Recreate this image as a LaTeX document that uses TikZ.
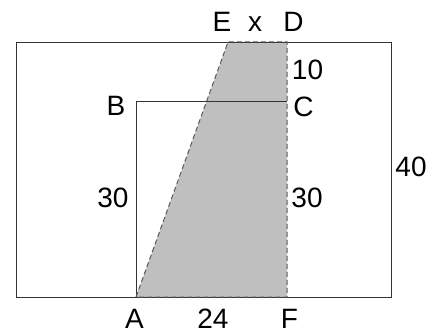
\documentclass[tikz,border=0pt]{standalone}
\usepackage{fontspec}
\setmainfont{Liberation Sans}
\begin{document}
\begin{tikzpicture}[x=1pt,y=1pt,
  lbl/.style={anchor=base,inner sep=0pt,font=\fontsize{28}{33}\selectfont},
  edgeline/.style={line width=0.9pt,draw=black!80},
  dashline/.style={line width=1pt,draw=black!65,dash pattern=on 5pt off 3pt}]
\useasboundingbox (0,0) rectangle (436,335);
\coordinate (O1) at (16,38);
\coordinate (O2) at (391,293);
\coordinate (A) at (136,38);
\coordinate (B) at (136,234);
\coordinate (C) at (287,234);
\coordinate (D) at (287,293);
\coordinate (E) at (228,293);
\coordinate (F) at (287,38);
\fill[black!25] (A) -- (E) -- (D) -- (F) -- cycle;
\draw[edgeline] (O1) rectangle (O2);
\draw[edgeline] (A) -- (B) -- (C);
\draw[dashline] (A) -- (E) -- (D) -- (F) -- cycle;
\node[lbl] (lE) at (222,303) {E};
\node[lbl] (lx) at (255,303) {x};
\node[lbl] (lD) at (293.5,303) {D};
\node[lbl] (l10) at (307.5,255) {10};
\node[lbl] (lC) at (303.5,218) {C};
\node[lbl] (lB) at (116,219) {B};
\node[lbl] (l30a) at (113,128) {30};
\node[lbl] (l30b) at (307,127.5) {30};
\node[lbl] (l40) at (411,158) {40};
\node[lbl] (lA) at (134.5,6.5) {A};
\node[lbl] (l24) at (213,7) {24};
\node[lbl] (lF) at (289.5,7) {F};
\end{tikzpicture}
\end{document}
